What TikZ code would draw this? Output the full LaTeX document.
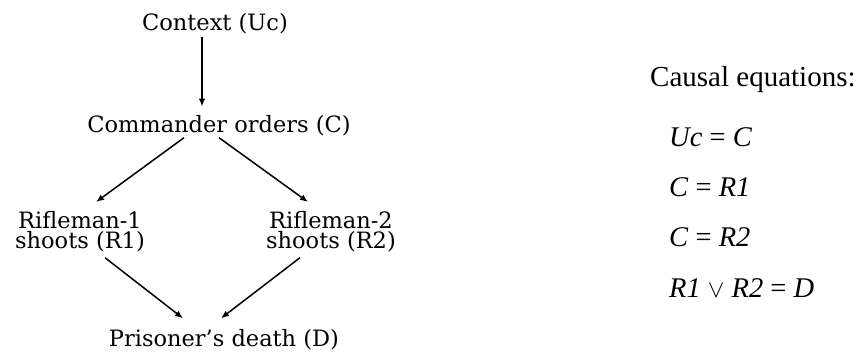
\documentclass[tikz,border=0pt]{standalone}
\usepackage{fontspec}
\usetikzlibrary{arrows.meta}
\setmainfont{Liberation Serif}
\newfontfamily\schfont{DejaVu Serif}
\newcommand\leftfont{\schfont\fontsize{22.5}{20}\selectfont}
\begin{document}
\begin{tikzpicture}[x=1pt,y=-1pt,
  lbl/.style={font=\leftfont, inner sep=0pt, align=center},
  eq/.style={font=\rmfamily\fontsize{28.5}{30}\selectfont, inner sep=0pt, anchor=base west},
  arr/.style={-{Latex[length=8pt,width=6.5pt]}, line width=1.5pt}]
\useasboundingbox (0,0) rectangle (860,352);
\node[lbl,anchor=base] (ctx) at (215,31) {Context (Uc)};
\node[lbl,anchor=base] (cmd) at (219,133) {Commander orders (C)};
\node[lbl,anchor=north] (r1) at (80,211.7) {Rifleman-1\\shoots (R1)};
\node[lbl,anchor=north] (r2) at (331,211.7) {Rifleman-2\\shoots (R2)};
\node[lbl,anchor=base] (pd) at (224,347) {Prisoner’s death (D)};
\node[eq,font=\rmfamily\fontsize{29}{30}\selectfont] (ttl) at (650,87) {Causal equations:};
\node[eq] (e1) at (669,147) {\textit{Uc} = \textit{C}};
\node[eq] (e2) at (669,197) {\textit{C} = \textit{R1}};
\node[eq] (e3) at (669,247) {\textit{C} = \textit{R2}};
\node[eq] (e4) at (669,298) {\textit{R1} $\vee$ \textit{R2} = \textit{D}};
\draw[arr] ([shift={(-13pt,-2pt)}]ctx.south) -- ([shift={(-17pt,9pt)}]cmd.north);
\draw[arr] ([shift={(-35pt,-1pt)}]cmd.south) -- ([shift={(16pt,9.7pt)}]r1.north);
\draw[arr] ([shift={(0pt,-1pt)}]cmd.south) -- ([shift={(-23pt,9.7pt)}]r2.north);
\draw[arr] ([shift={(25pt,-5pt)}]r1.south) -- ([shift={(-41pt,11.4pt)}]pd.north);
\draw[arr] ([shift={(-31pt,-5pt)}]r2.south) -- ([shift={(-3pt,11.4pt)}]pd.north);
\end{tikzpicture}
\end{document}
